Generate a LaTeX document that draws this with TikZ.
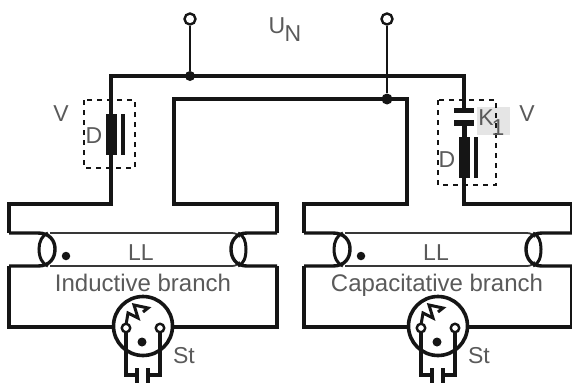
\documentclass[tikz,border=0pt]{standalone}
\usepackage{fontspec}
\setmainfont{Liberation Sans}
\definecolor{wire}{HTML}{151515}
\definecolor{lbl}{HTML}{5A5A5A}
\tikzset{x=1pt,y=-1pt,
 wirem/.style={draw=wire,line width=4pt,line join=miter},
 wiret/.style={draw=wire,line width=2.6pt},
 tube/.style={draw=wire!85!white,line width=1.8pt},
 blob/.style={circle,fill=wire,inner sep=0pt,minimum size=#1},
 term/.style={circle,draw=wire,line width=2.4pt,fill=white,inner sep=0pt,minimum size=#1},
 dashbox/.style={draw=wire,line width=1.6pt,dash pattern=on 5pt off 5pt},
 txt/.style={text=lbl,inner sep=0pt,anchor=base,font=\fontsize{#1}{#1}\selectfont},
 txt/.default=23
}
\newcommand{\branch}[1]{%
 % coils and tube
 \draw[tube] (50,233) -- (232,233) .. controls (236,233) and (238,235) .. (240,237);
 \draw[tube] (50,266) -- (232,266) .. controls (236,266) and (238,264) .. (240,262);
 \draw[wiret,line width=3.4pt] (9,233) -- (38,233) .. controls (50,233) and (55,241) .. (55,249) .. controls (55,258) and (50,266) .. (38,266) -- (9,266);
 \draw[wiret,line width=3pt] (48,233) .. controls (42,235) and (39,242) .. (39,249) .. controls (39,257) and (42,264) .. (48,266);
 \draw[wiret,line width=3.4pt] (277,233) -- (247,233) .. controls (236,233) and (231,241) .. (231,249) .. controls (231,258) and (236,266) .. (247,266) -- (277,266);
 \draw[wiret,line width=3pt] (238,233) .. controls (244,235) and (246,242) .. (246,249) .. controls (246,257) and (244,264) .. (238,266);
 % outer connections
 \draw[wirem] (9,204) -- (9,233);
 \draw[wirem] (277,204) -- (277,233);
 \draw[wirem] (9,266) -- (9,327) -- (113,327);
 \draw[wirem] (277,266) -- (277,327) -- (173,327);
 % starter
 \node[circle,draw=wire,line width=3.6pt,inner sep=0pt,minimum size=59pt] (st#1) at (143,326) {};
 \draw[wiret,line width=3.2pt] (126,326) -- (126,375) -- (137,375);
 \draw[wiret,line width=3.2pt] (160,326) -- (160,375) -- (148,375);
 \draw[wiret,line width=4pt] (137,368) -- (137,383);
 \draw[wiret,line width=4pt] (148,368) -- (148,383);
 \draw[wiret,line width=3pt] (126,325) -- (128,313) -- (138,318) -- (134,305) -- (148,308) -- (143,312);
 \node[term=8.5pt] (a#1) at (126,328) {};
 \node[term=8.5pt] (b#1) at (160,328) {};
 \node[blob=9pt] (c#1) at (142,342) {};
 \node[blob=8.5pt] (d#1) at (66,256) {};
 \node[txt] (ll#1) at (141,260) {LL};
 \node[txt] (st-l#1) at (184,363) {St};
}
\begin{document}
\begin{tikzpicture}
\useasboundingbox (0,0) rectangle (572,383);
\fill[white] (0,0) rectangle (572,383);
% terminals and mains wiring
\coordinate (jl) at (190,76);
\coordinate (jr) at (387,99);
\draw[wirem] (111,204) -- (111,76) -- (464,76) -- (464,204);
\draw[wirem] (407,204) -- (407,99) -- (174,99) -- (174,204);
\draw[wirem] (113,204) -- (7,204);
\draw[wirem] (172,204) -- (279,204);
\draw[wirem] (409,204) -- (302,204);
\draw[wirem] (462,204) -- (574,204);
\node[term=11pt] (t1) at (190,19) {};
\node[term=11pt] (t2) at (387,19) {};
\node[blob=10pt] (n1) at (jl) {};
\node[blob=11pt] (n2) at (jr) {};
\draw[wiret] (t1) -- (n1);
\draw[wiret] (t2) -- (n2);
\node[txt] (un) at (277,33) {U};
\node[txt] (unb) at (293,41) {N};
% left choke
\draw[dashbox] (84,100) rectangle (135,168);
\fill[wire] (106,114) rectangle (117,155);
\fill[wire] (121,114) rectangle (125,155);
\node[txt] (vl) at (61,121) {V};
\node[txt] (dl) at (94,143) {D};
% right choke and capacitor
\fill[black!10] (477,107) rectangle (510,135);
\draw[dashbox] (438,100) rectangle (496,185);
\fill[white] (460,112.5) rectangle (468,119.5);
\fill[wire] (454,107.5) rectangle (474,113);
\fill[wire] (454,120) rectangle (474,125.5);
\fill[wire] (459,137) rectangle (470,178);
\fill[wire] (474,137) rectangle (478,178);
\draw[wirem] (464.5,125) -- (464.5,137);
\node[txt] (k) at (486,125) {K};
\node[txt] (k1) at (498,135) {1};
\node[txt] (vr) at (527,121) {V};
\node[txt] (dr) at (447,167) {D};
% branches
\branch{l}
\begin{scope}[xshift=295pt]\branch{r}\end{scope}
\node[txt=24] (ib) at (143,291) {Inductive branch};
\node[txt=24] (cb) at (437,291) {Capacitative branch};
\end{tikzpicture}
\end{document}
